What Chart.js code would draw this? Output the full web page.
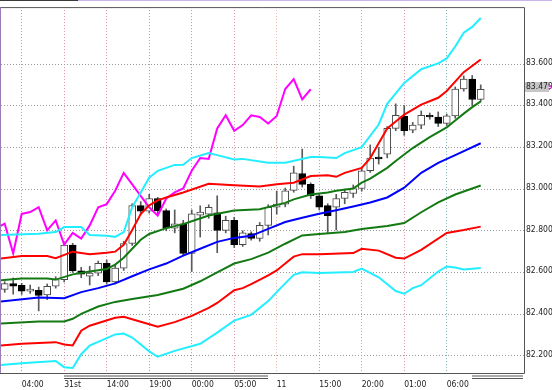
<!DOCTYPE html>
<html>
<head>
<meta charset="utf-8">
<script src="https://cdn.jsdelivr.net/npm/chart.js@4.4.1/dist/chart.umd.min.js"></script>
<style>
    html, body { margin: 0; padding: 0; background: #fff; }
    canvas { display: block; }
</style>
</head>
<body>
<canvas id="chart" width="552" height="390"></canvas>
<script>
// ─── Data ───
const opens = [82.519, 82.547, 82.538, 82.511, 82.515, 82.492, 82.534, 82.566, 82.732, 82.608,
    82.582, 82.597, 82.644, 82.555, 82.621, 82.739, 82.921, 82.894, 82.955, 82.897,
    82.813, 82.834, 82.692, 82.875, 82.880, 82.886, 82.802, 82.850, 82.734, 82.787,
    82.763, 82.826, 82.913, 82.928, 82.994, 83.075, 83.023, 82.968, 82.921, 82.913,
    82.955, 82.979, 83.003, 83.088, 83.154, 83.168, 83.291, 83.349, 83.283, 83.307,
    83.354, 83.346, 83.315, 83.351, 83.480, 83.528, 83.430];
const highs = [82.556, 82.574, 82.548, 82.540, 82.530, 82.545, 82.580, 82.740, 82.740, 82.625,
    82.630, 82.655, 82.660, 82.640, 82.750, 82.930, 82.940, 82.975, 82.960, 82.905,
    82.900, 82.850, 82.900, 82.920, 82.925, 82.968, 82.870, 82.865, 82.800, 82.795,
    82.840, 82.925, 82.990, 83.005, 83.110, 83.192, 83.030, 82.975, 82.930, 82.975,
    83.000, 83.020, 83.100, 83.212, 83.200, 83.300, 83.409, 83.401, 83.320, 83.375,
    83.365, 83.370, 83.360, 83.490, 83.543, 83.545, 83.500];
const lows = [82.505, 82.496, 82.495, 82.500, 82.416, 82.470, 82.525, 82.555, 82.600, 82.575,
    82.540, 82.585, 82.545, 82.545, 82.610, 82.730, 82.880, 82.885, 82.880, 82.800,
    82.790, 82.680, 82.605, 82.770, 82.860, 82.695, 82.790, 82.720, 82.725, 82.755,
    82.750, 82.780, 82.880, 82.915, 82.985, 83.010, 82.955, 82.900, 82.786, 82.804,
    82.930, 82.960, 82.990, 83.080, 83.120, 83.150, 83.280, 83.258, 83.270, 83.290,
    83.335, 83.300, 83.305, 83.340, 83.470, 83.400, 83.420];
const closes = [82.547, 82.534, 82.511, 82.520, 82.490, 82.534, 82.566, 82.732, 82.608, 82.592,
    82.597, 82.644, 82.555, 82.621, 82.739, 82.921, 82.894, 82.955, 82.897, 82.813,
    82.834, 82.692, 82.881, 82.890, 82.913, 82.802, 82.850, 82.734, 82.790, 82.763,
    82.826, 82.913, 82.928, 82.992, 83.078, 83.023, 82.968, 82.913, 82.873, 82.955,
    82.984, 83.003, 83.088, 83.149, 83.145, 83.291, 83.354, 83.280, 83.307, 83.354,
    83.346, 83.315, 83.351, 83.480, 83.528, 83.430, 83.479];

// lagging span, first value sits one bar left of the first candle
const lagStart = -1;
const lagSpan = [82.813, 82.834, 82.692, 82.881, 82.890, 82.913, 82.802, 82.850, 82.734, 82.790,
    82.763, 82.826, 82.913, 82.928, 82.992, 83.078, 83.023, 82.968, 82.913, 82.873,
    82.955, 82.984, 83.003, 83.088, 83.149, 83.145, 83.291, 83.354, 83.280, 83.307,
    83.354, 83.346, 83.315, 83.351, 83.480, 83.528, 83.430, 83.479];

// bands: [bar index, price]
const bandUp3 = [[-0.44, 82.780], [4, 82.786], [6, 82.794], [7, 82.818], [9, 82.818], [10, 82.780],
    [12, 82.776], [13, 82.771], [14, 82.794], [15, 82.913], [16, 82.984], [17, 83.055], [18, 83.088],
    [20, 83.116], [21, 83.117], [22, 83.149], [24, 83.173], [25, 83.163], [27, 83.142], [28, 83.145],
    [31, 83.126], [33, 83.126], [36, 83.154], [37, 83.154], [39, 83.149], [40, 83.173], [42, 83.201],
    [44, 83.310], [45, 83.409], [47, 83.509], [49, 83.575], [51, 83.603], [52, 83.627], [53, 83.684],
    [54, 83.750], [55, 83.778], [56, 83.821]];
const bandUp2 = [[-0.44, 82.667], [2, 82.679], [5, 82.679], [6, 82.669], [8, 82.700], [10, 82.688],
    [12, 82.695], [13, 82.700], [14, 82.733], [15, 82.804], [16, 82.880], [17, 82.922], [18, 82.946],
    [19, 82.960], [21, 82.984], [24, 83.026], [27, 83.018], [30, 83.012], [32, 83.023], [34, 83.031],
    [36, 83.063], [38, 83.066], [39, 83.059], [40, 83.078], [42, 83.102], [43, 83.149], [44, 83.220],
    [45, 83.291], [46, 83.324], [47, 83.357], [49, 83.405], [51, 83.438], [52, 83.471], [54, 83.561],
    [56, 83.622]];
const bandUp1 = [[-0.44, 82.563], [2, 82.571], [5, 82.571], [6, 82.566], [8, 82.591], [10, 82.605],
    [12, 82.617], [13, 82.638], [14, 82.671], [15, 82.714], [16, 82.757], [17, 82.785], [19, 82.813],
    [21, 82.832], [22, 82.846], [24, 82.873], [27, 82.897], [30, 82.903], [33, 82.934], [34, 82.951],
    [36, 82.974], [38, 82.984], [39, 82.992], [41, 83.003], [42, 83.031], [43, 83.050], [45, 83.102],
    [46, 83.135], [48, 83.197], [50, 83.249], [52, 83.296], [53, 83.329], [54, 83.362], [55, 83.393],
    [56, 83.421]];
const bandMid = [[-0.44, 82.461], [4, 82.480], [7, 82.477], [9, 82.506], [11, 82.525], [13, 82.548],
    [15, 82.582], [17, 82.615], [19, 82.643], [21, 82.681], [23, 82.714], [25, 82.747], [27, 82.766],
    [29, 82.776], [31, 82.809], [33, 82.842], [35, 82.863], [37, 82.882], [39, 82.899], [41, 82.917],
    [43, 82.936], [45, 82.960], [47, 83.007], [49, 83.078], [51, 83.126], [53, 83.163], [56, 83.220]];
const bandLo1 = [[-0.44, 82.356], [4, 82.365], [7, 82.365], [8, 82.378], [9, 82.402], [11, 82.437],
    [13, 82.459], [15, 82.473], [18, 82.492], [21, 82.522], [23, 82.558], [25, 82.601], [27, 82.643],
    [29, 82.664], [31, 82.695], [33, 82.738], [35, 82.778], [37, 82.785], [40, 82.794], [42, 82.809],
    [45, 82.823], [47, 82.837], [49, 82.889], [51, 82.936], [53, 82.974], [56, 83.017]];
const bandLo2 = [[-0.44, 82.250], [2, 82.258], [6, 82.266], [7, 82.255], [8, 82.250], [9, 82.321],
    [10, 82.345], [13, 82.383], [14, 82.388], [16, 82.364], [18, 82.340], [20, 82.362], [22, 82.392],
    [24, 82.430], [25, 82.454], [27, 82.515], [28, 82.525], [29, 82.544], [31, 82.586], [32, 82.610],
    [33, 82.643], [34, 82.676], [35, 82.688], [37, 82.687], [41, 82.693], [42, 82.714], [44, 82.705],
    [46, 82.671], [47, 82.667], [49, 82.709], [52, 82.790], [54, 82.804], [56, 82.820]];
const bandLo3 = [[-0.44, 82.156], [2, 82.165], [6, 82.176], [7, 82.146], [8, 82.142], [9, 82.208],
    [10, 82.250], [13, 82.303], [14, 82.307], [15, 82.288], [17, 82.222], [18, 82.196], [20, 82.224],
    [23, 82.258], [25, 82.312], [27, 82.369], [29, 82.397], [31, 82.463], [32, 82.506], [33, 82.548],
    [34, 82.589], [35, 82.601], [37, 82.598], [41, 82.603], [42, 82.619], [44, 82.577], [46, 82.511],
    [47, 82.498], [48, 82.525], [49, 82.539], [51, 82.605], [52, 82.629], [53, 82.624], [54, 82.615],
    [56, 82.622]];

// axis
const timeLabels = ['04:00', '31st', '14:00', '19:00', '00:00', '05:00', '11', '15:00', '20:00', '01:00', '06:00'];
const labelBars = [2, 7, 12, 17, 22, 27, 32, 37, 42, 47, 52];
const priceTicks = [82.2, 82.4, 82.6, 82.8, 83.0, 83.2, 83.4, 83.6];
const sessions = [[7, 31], [55, 61]];

// ─── Styles ───
const TEAL = '#7fb0b4', PINK = '#dd8fb0', PALE = '#e6b9b0';
const vGridColors = [TEAL, PINK, PINK, TEAL, TEAL, PINK, PALE, TEAL, PINK, PINK, TEAL];
const tickFont = { family: "'Liberation Sans Narrow', 'Arial Narrow', 'DejaVu Sans Condensed', sans-serif", size: 8.5 };

const toPts = arr => arr.map(([x, y]) => ({ x, y }));
const band = (label, pts, color) => ({
    type: 'line', label, data: toPts(pts), borderColor: color, borderWidth: 2,
    pointRadius: 0, tension: 0, fill: false, order: 0
});

// ─── Frame, session bars, price tag ───
const decorations = {
    id: 'decorations',
    beforeDraw(chart) {
        const { ctx } = chart;
        ctx.save();
        ctx.fillStyle = '#fff';
        ctx.fillRect(0, 0, chart.width, chart.height);
        ctx.fillStyle = '#3a3a3a';
        ctx.fillRect(0, 0, 78, 1);
        ctx.fillStyle = '#c9b6ec';
        ctx.fillRect(78, 0, chart.width - 78, 1);
        ctx.restore();
    },
    afterDraw(chart) {
        const { ctx, chartArea: a, scales: { x, y } } = chart;
        ctx.save();
        ctx.lineWidth = 1;
        ctx.strokeStyle = '#555';
        ctx.beginPath();
        ctx.moveTo(0, a.top + 0.5); ctx.lineTo(a.right + 0.5, a.top + 0.5);
        ctx.lineTo(a.right + 0.5, a.bottom + 0.5); ctx.lineTo(0, a.bottom + 0.5);
        ctx.stroke();
        ctx.strokeStyle = '#9b7bb8';
        ctx.beginPath();
        ctx.moveTo(0.5, a.top); ctx.lineTo(0.5, a.bottom);
        ctx.stroke();

        // session double lines under the axis
        ctx.strokeStyle = '#555';
        sessions.forEach(([s, e]) => {
            const x0 = Math.round(x.getPixelForValue(s)), x1 = Math.round(x.getPixelForValue(e));
            [3, 5.5].forEach(dy => {
                ctx.beginPath();
                ctx.moveTo(x0, a.bottom + dy); ctx.lineTo(x1, a.bottom + dy);
                ctx.stroke();
            });
        });

        // last price tag
        const last = closes[closes.length - 1];
        const py = Math.round(y.getPixelForValue(last));
        ctx.fillStyle = '#c6c6c6';
        ctx.fillRect(a.right + 1, py - 7, 24, 10);
        ctx.fillStyle = '#222';
        ctx.font = `${tickFont.size}px ${tickFont.family}`;
        ctx.textBaseline = 'middle';
        ctx.fillText(last.toFixed(3), a.right + 2, py - 2);
        ctx.strokeStyle = '#ff00ff';
        ctx.beginPath();
        ctx.moveTo(a.right + 25, py - 5); ctx.lineTo(a.right + 27.5, py - 2); ctx.lineTo(a.right + 25, py + 1);
        ctx.stroke();
        ctx.restore();
    }
};

new Chart(document.getElementById('chart'), {
    type: 'line',
    data: {
        datasets: [
            band('+3σ', bandUp3, '#22eeff'),
            band('+2σ', bandUp2, '#ff0000'),
            band('+1σ', bandUp1, '#137a13'),
            band('MA', bandMid, '#0000ff'),
            band('-1σ', bandLo1, '#137a13'),
            band('-2σ', bandLo2, '#ff0000'),
            band('-3σ', bandLo3, '#22eeff'),
            {
                type: 'line', label: 'lag',
                data: lagSpan.map((v, k) => ({ x: lagStart + k, y: v })),
                borderColor: '#ff00ff', borderWidth: 2, pointRadius: 0, tension: 0, fill: false, order: 0
            },
            {
                type: 'bar', label: 'body',
                data: closes.map((c, i) => ({ x: i, y: [opens[i], c] })),
                backgroundColor: closes.map((c, i) => c >= opens[i] ? '#ffffff' : '#000000'),
                borderColor: closes.map((c, i) => c >= opens[i] ? '#4a4a4a' : '#000000'),
                borderWidth: 1, borderSkipped: false, barThickness: 7, grouped: false, order: 2
            },
            {
                type: 'bar', label: 'wick',
                data: closes.map((c, i) => ({ x: i, y: [lows[i], highs[i]] })),
                backgroundColor: '#5a5a5a', barThickness: 1, grouped: false, order: 3
            }
        ]
    },
    options: {
        responsive: false,
        animation: false,
        events: [],
        layout: { padding: { left: 1, top: 2, right: 0, bottom: 0 } },
        plugins: { legend: { display: false }, tooltip: { enabled: false } },
        scales: {
            x: {
                type: 'linear', min: -0.435, max: 61.09, offset: false,
                afterBuildTicks: s => { s.ticks = labelBars.map(v => ({ value: v })); },
                afterFit: s => { s.height = 17; },
                ticks: {
                    autoSkip: false, maxRotation: 0, align: 'start', padding: 7,
                    font: tickFont, color: '#222',
                    callback: (v, i) => timeLabels[i]
                },
                grid: { color: c => vGridColors[c.index] || TEAL, drawTicks: false, offset: false },
                border: { display: false, dash: [1, 2] }
            },
            y: {
                type: 'linear', position: 'right', min: 82.118, max: 83.873,
                afterBuildTicks: s => { s.ticks = priceTicks.map(v => ({ value: v })); },
                afterFit: s => { s.width = 28; },
                ticks: { padding: 2, labelOffset: -1.5, font: tickFont, color: '#222', callback: v => v.toFixed(3) },
                grid: { color: '#9a9a9a', drawTicks: false },
                border: { display: false, dash: [1, 2] }
            }
        }
    },
    plugins: [decorations]
});
</script>
</body>
</html>
